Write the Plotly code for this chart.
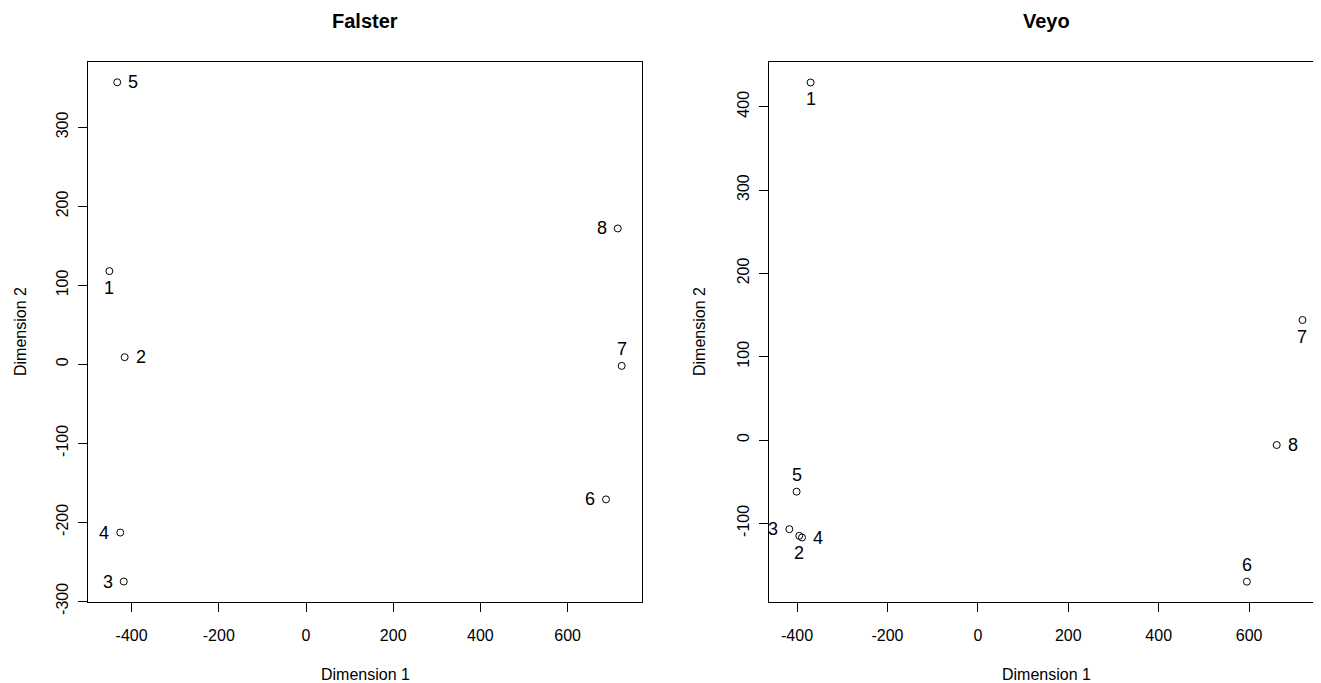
import plotly.graph_objects as go

# ---- data ----
falster_labels = ["1", "2", "3", "4", "5", "6", "7", "8"]
falster_x = [-451, -416, -418, -426, -433, 688, 724, 715]
falster_y = [118, 9, -275, -213, 357, -171, -2, 172]
falster_pos = ["below", "right", "left", "left", "right", "left", "above", "left"]

veyo_labels = ["1", "2", "3", "4", "5", "6", "7", "8"]
veyo_x = [-370, -395, -417, -389, -401, 595, 718, 661]
veyo_y = [429, -115, -107, -117, -62, -170, 144, -6]
veyo_pos = ["below", "below", "left", "right", "above", "above", "below", "right"]

x_ticks = [-400, -200, 0, 200, 400, 600]
x_tick_text = ["-400", "-200", "0", "200", "400", "600"]
falster_y_ticks = [-300, -200, -100, 0, 100, 200, 300]
falster_y_text = ["-300", "-200", "-100", "0", "100", "200", "300"]
veyo_y_ticks = [-100, 0, 100, 200, 300, 400]
veyo_y_text = ["-100", "0", "100", "200", "300", "400"]

panel_titles = ["Falster", "Veyo"]
x_title = "Dimension 1"
y_title = "Dimension 2"

# the page body has an 8px margin, so figure pixels = page pixels - 8
OFF = 8
W, H = 1323 - OFF, 683 - OFF
FONT = "Liberation Sans, Arial, sans-serif"

def px_x(p):
    return (p - OFF) / W

def px_y(p):
    return 1 - (p - OFF) / H

fig = go.Figure()

SHIFT = {"right": (16, 0), "left": (-16, 0), "above": (0, 17), "below": (0, -17)}

def add_panel(xs, ys, labels, pos, xa, ya):
    fig.add_trace(go.Scatter(
        x=xs, y=ys, mode="markers",
        marker=dict(symbol="circle-open", size=7, color="black",
                    line=dict(width=1, color="black")),
        xaxis=xa, yaxis=ya, showlegend=False, hoverinfo="skip",
        cliponaxis=False,
    ))
    for x, y, t, p in zip(xs, ys, labels, pos):
        dx, dy = SHIFT[p]
        fig.add_annotation(x=x, y=y, xref=xa, yref=ya, text=t, showarrow=False,
                           xshift=dx, yshift=dy, xanchor="center", yanchor="middle",
                           font=dict(family=FONT, size=18, color="black"))

add_panel(falster_x, falster_y, falster_labels, falster_pos, "x", "y")
add_panel(veyo_x, veyo_y, veyo_labels, veyo_pos, "x2", "y2")

ydom = [px_y(602), px_y(62)]
axis_common = dict(
    showline=True, mirror=True, linecolor="black", linewidth=1,
    showgrid=False, zeroline=False, ticks="outside", ticklen=9,
    tickwidth=1, tickcolor="black", automargin=False,
    tickfont=dict(family=FONT, size=16, color="black"),
    tickmode="array",
)
xaxis_common = dict(axis_common, ticklabelstandoff=10)
yaxis_common = dict(axis_common, tickangle=-90, ticklabelstandoff=4)

fig.update_layout(
    width=W, height=H, autosize=False,
    margin=dict(l=0, r=0, t=0, b=0, pad=0),
    paper_bgcolor="white", plot_bgcolor="white",
    xaxis=dict(xaxis_common, domain=[px_x(88), px_x(642)], range=[-500, 770.6],
               anchor="y", tickvals=x_ticks, ticktext=x_tick_text),
    yaxis=dict(yaxis_common, domain=ydom, range=[-300.9, 382.7], anchor="x",
               tickvals=falster_y_ticks, ticktext=falster_y_text),
    xaxis2=dict(xaxis_common, domain=[px_x(769), 1.0], range=[-462, 763.4],
                anchor="y2", tickvals=x_ticks, ticktext=x_tick_text),
    yaxis2=dict(yaxis_common, domain=ydom, range=[-194.4, 453.6], anchor="x2",
                tickvals=veyo_y_ticks, ticktext=veyo_y_text),
)

centers = [px_x((88 + 642) / 2), px_x((769 + 1323) / 2)]
ylab_x = [px_x(20), px_x(699)]
for i in range(2):
    fig.add_annotation(text="<b>%s</b>" % panel_titles[i], x=centers[i], y=px_y(21),
                       xref="paper", yref="paper", showarrow=False,
                       xanchor="center", yanchor="middle",
                       font=dict(family=FONT, size=20, color="black"))
    fig.add_annotation(text=x_title, x=centers[i], y=px_y(674),
                       xref="paper", yref="paper", showarrow=False,
                       xanchor="center", yanchor="middle",
                       font=dict(family=FONT, size=16, color="black"))
    fig.add_annotation(text=y_title, x=ylab_x[i], y=px_y(332),
                       xref="paper", yref="paper", showarrow=False,
                       textangle=-90, xanchor="center", yanchor="middle",
                       font=dict(family=FONT, size=16, color="black"))

fig.write_html("out.html")
